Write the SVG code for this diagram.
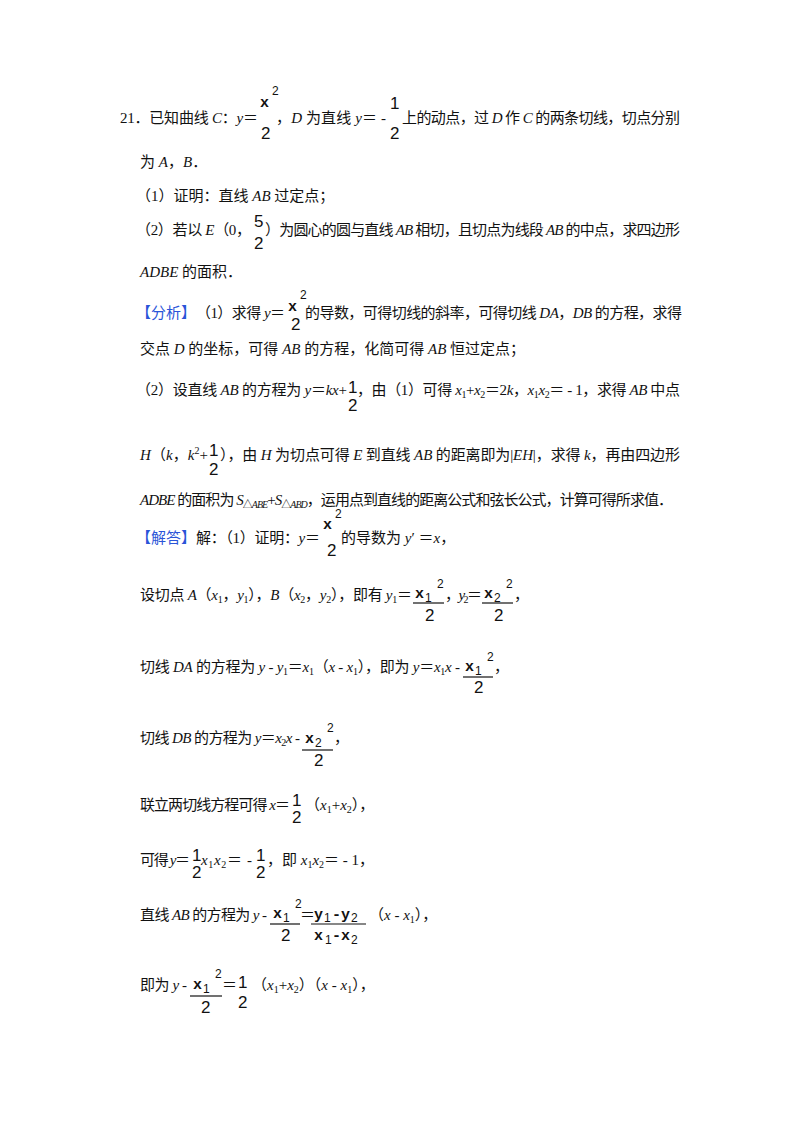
<svg xmlns="http://www.w3.org/2000/svg" width="800" height="1132" viewBox="0 0 800 1132">
<style>
text{font-family:"Liberation Serif","Noto Sans CJK SC",serif;font-size:15px;fill:#111}
.i{font-style:italic}
.f{font-family:"Liberation Sans",sans-serif;font-size:17px}
.m{font-family:"Liberation Mono",monospace;font-size:15px;font-weight:bold}
.s{font-family:"Liberation Sans",sans-serif;font-size:12px}
.b{fill:#2a55d8}
.sub{font-size:10px}
line{stroke:#111;stroke-width:1.2}
</style>
<rect width="800" height="1132" fill="#fff"/>
<g id="problem">
<text x="120" y="123" textLength="138">21．已知曲线 <tspan class="i">C</tspan>：<tspan class="i">y</tspan>＝</text>
<text class="m" x="260" y="107">x</text><text class="s" x="272" y="95">2</text><text class="f" x="261" y="139">2</text>
<text x="276" y="123" textLength="110">，<tspan class="i">D</tspan> 为直线 <tspan class="i">y</tspan>＝ -</text>
<text class="f" x="390" y="109">1</text><text class="f" x="390" y="139">2</text>
<text x="402" y="123" textLength="278">上的动点，过 <tspan class="i">D</tspan> 作 <tspan class="i">C</tspan> 的两条切线，切点分别</text>
<text x="140" y="167">为 <tspan class="i">A</tspan>，<tspan class="i">B</tspan>．</text>
<text x="136" y="201">（1）证明：直线 <tspan class="i">AB</tspan> 过定点；</text>
<text x="136" y="235" textLength="115">（2）若以 <tspan class="i">E</tspan>（0，</text>
<text class="f" x="254" y="227">5</text><text class="f" x="254" y="249">2</text>
<text x="265" y="235" textLength="415">）为圆心的圆与直线 <tspan class="i">AB</tspan> 相切，且切点为线段 <tspan class="i">AB</tspan> 的中点，求四边形</text>
<text x="140" y="277"><tspan class="i">ADBE</tspan> 的面积．</text>
</g>
<g id="analysis">
<text class="b" x="136" y="318">【分析】</text>
<text x="196" y="318" textLength="89">（1）求得 <tspan class="i">y</tspan>＝</text>
<text class="m" x="288" y="311">x</text><text class="s" x="300" y="299">2</text><text class="f" x="291" y="330">2</text>
<text x="305" y="318" textLength="377">的导数，可得切线的斜率，可得切线 <tspan class="i">DA</tspan>，<tspan class="i">DB</tspan> 的方程，求得</text>
<text x="140" y="354">交点 <tspan class="i">D</tspan> 的坐标，可得 <tspan class="i">AB</tspan> 的方程，化简可得 <tspan class="i">AB</tspan> 恒过定点；</text>
<text x="136" y="395" textLength="211">（2）设直线 <tspan class="i">AB</tspan> 的方程为 <tspan class="i">y</tspan>＝<tspan class="i">kx</tspan>+</text>
<text class="f" x="348" y="393">1</text><text class="f" x="348" y="411">2</text>
<text x="357" y="395" textLength="323">，由（1）可得 <tspan class="i">x</tspan><tspan class="sub" dy="3">1</tspan><tspan dy="-3">+</tspan><tspan class="i">x</tspan><tspan class="sub" dy="3">2</tspan><tspan dy="-3">＝2</tspan><tspan class="i">k</tspan>，<tspan class="i">x</tspan><tspan class="sub" dy="3">1</tspan><tspan class="i" dy="-3">x</tspan><tspan class="sub" dy="3">2</tspan><tspan dy="-3">＝ - 1，求得 </tspan><tspan class="i">AB</tspan> 中点</text>
<text x="140" y="460" textLength="68"><tspan class="i">H</tspan>（<tspan class="i">k</tspan>，<tspan class="i">k</tspan><tspan class="sub" dy="-6">2</tspan><tspan dy="6">+</tspan></text>
<text class="f" x="209" y="456">1</text><text class="f" x="209" y="475">2</text>
<text x="220" y="460" textLength="460">），由 <tspan class="i">H</tspan> 为切点可得 <tspan class="i">E</tspan> 到直线 <tspan class="i">AB</tspan> 的距离即为|<tspan class="i">EH</tspan>|，求得 <tspan class="i">k</tspan>，再由四边形</text>
<text x="140" y="505" textLength="533"><tspan class="i">ADBE</tspan> 的面积为 <tspan class="i">S</tspan><tspan class="sub" dy="3">△</tspan><tspan class="sub i">ABE</tspan><tspan dy="-3">+</tspan><tspan class="i">S</tspan><tspan class="sub" dy="3">△</tspan><tspan class="sub i">ABD</tspan><tspan dy="-3">，运用点到直线的距离公式和弦长公式，计算可得所求值．</tspan></text>
</g>
<g id="solution">
<text class="b" x="136" y="543">【解答】</text>
<text x="196" y="543" textLength="124">解：（1）证明：<tspan class="i">y</tspan>＝</text>
<text class="m" x="323" y="529">x</text><text class="s" x="335" y="518">2</text><text class="f" x="327" y="556">2</text>
<text x="341" y="543">的导数为 <tspan class="i">y</tspan>′ ＝<tspan class="i">x</tspan>，</text>

<text x="140" y="600" textLength="272">设切点 <tspan class="i">A</tspan>（<tspan class="i">x</tspan><tspan class="sub" dy="3">1</tspan><tspan dy="-3">，</tspan><tspan class="i">y</tspan><tspan class="sub" dy="3">1</tspan><tspan dy="-3">），</tspan><tspan class="i">B</tspan>（<tspan class="i">x</tspan><tspan class="sub" dy="3">2</tspan><tspan dy="-3">，</tspan><tspan class="i">y</tspan><tspan class="sub" dy="3">2</tspan><tspan dy="-3">），即有 </tspan><tspan class="i">y</tspan><tspan class="sub" dy="3">1</tspan><tspan dy="-3">＝</tspan></text>
<text class="m" x="415" y="598">x</text><text class="s" x="425" y="602">1</text><text class="s" x="437" y="588">2</text>
<line x1="413" y1="603" x2="444" y2="603"/><text class="f" x="425" y="621">2</text>
<text x="445" y="600" textLength="37">，<tspan class="i">y</tspan><tspan class="sub" dy="3">2</tspan><tspan dy="-3">＝</tspan></text>
<text class="m" x="484" y="598">x</text><text class="s" x="494" y="602">2</text><text class="s" x="506" y="588">2</text>
<line x1="482" y1="603" x2="513" y2="603"/><text class="f" x="494" y="621">2</text>
<text x="514" y="600">，</text>

<text x="140" y="672" textLength="320">切线 <tspan class="i">DA</tspan> 的方程为 <tspan class="i">y</tspan> - <tspan class="i">y</tspan><tspan class="sub" dy="3">1</tspan><tspan dy="-3">＝</tspan><tspan class="i">x</tspan><tspan class="sub" dy="3">1</tspan><tspan dy="-3">（</tspan><tspan class="i">x</tspan> - <tspan class="i">x</tspan><tspan class="sub" dy="3">1</tspan><tspan dy="-3">），即为 </tspan><tspan class="i">y</tspan>＝<tspan class="i">x</tspan><tspan class="sub" dy="3">1</tspan><tspan class="i" dy="-3">x</tspan> -</text>
<text class="m" x="465" y="671">x</text><text class="s" x="475" y="675">1</text><text class="s" x="487" y="661">2</text>
<line x1="463" y1="677" x2="493" y2="677"/><text class="f" x="474" y="693">2</text>
<text x="494" y="672">，</text>

<text x="140" y="743" textLength="160">切线 <tspan class="i">DB</tspan> 的方程为 <tspan class="i">y</tspan>＝<tspan class="i">x</tspan><tspan class="sub" dy="3">2</tspan><tspan class="i" dy="-3">x</tspan> -</text>
<text class="m" x="305" y="743">x</text><text class="s" x="315" y="747">2</text><text class="s" x="327" y="732">2</text>
<line x1="302" y1="750" x2="333" y2="750"/><text class="f" x="314" y="766">2</text>
<text x="334" y="743">，</text>

<text x="140" y="810" textLength="150">联立两切线方程可得 <tspan class="i">x</tspan>＝</text>
<text class="f" x="292" y="806">1</text><text class="f" x="292" y="823">2</text>
<text x="305" y="810">（<tspan class="i">x</tspan><tspan class="sub" dy="3">1</tspan><tspan dy="-3">+</tspan><tspan class="i">x</tspan><tspan class="sub" dy="3">2</tspan><tspan dy="-3">），</tspan></text>

<text x="140" y="865" textLength="50">可得 <tspan class="i">y</tspan>＝</text>
<text class="f" x="192" y="861">1</text><text class="f" x="192" y="878">2</text>
<text x="201" y="865" textLength="51"><tspan class="i">x</tspan><tspan class="sub" dy="3">1</tspan><tspan class="i" dy="-3">x</tspan><tspan class="sub" dy="3">2</tspan><tspan dy="-3">＝ -</tspan></text>
<text class="f" x="256" y="861">1</text><text class="f" x="256" y="878">2</text>
<text x="267" y="865">，即 <tspan class="i">x</tspan><tspan class="sub" dy="3">1</tspan><tspan class="i" dy="-3">x</tspan><tspan class="sub" dy="3">2</tspan><tspan dy="-3">＝ - 1，</tspan></text>

<text x="140" y="920" textLength="127">直线 <tspan class="i">AB</tspan> 的方程为 <tspan class="i">y</tspan> -</text>
<text class="m" x="273" y="918">x</text><text class="s" x="283" y="922">1</text><text class="s" x="295" y="908">2</text>
<line x1="270" y1="924" x2="300" y2="924"/><text class="f" x="281" y="941">2</text>
<text x="300" y="920">＝</text>
<text class="m" x="314" y="919">y</text><text class="s" x="324" y="922">1</text><text class="m" x="332" y="919">-y</text><text class="s" x="351" y="922">2</text>
<line x1="311" y1="924" x2="366" y2="924"/>
<text class="m" x="314" y="940">x</text><text class="s" x="325" y="944">1</text><text class="m" x="332" y="940">-x</text><text class="s" x="351" y="944">2</text>
<text x="369" y="920">（<tspan class="i">x</tspan> - <tspan class="i">x</tspan><tspan class="sub" dy="3">1</tspan><tspan dy="-3">），</tspan></text>

<text x="140" y="990" textLength="47">即为 <tspan class="i">y</tspan> -</text>
<text class="m" x="193" y="989">x</text><text class="s" x="203" y="993">1</text><text class="s" x="215" y="978">2</text>
<line x1="190" y1="996" x2="222" y2="996"/><text class="f" x="201" y="1013">2</text>
<text x="222" y="990">＝</text>
<text class="f" x="238" y="988">1</text><text class="f" x="238" y="1008">2</text>
<text x="252" y="990">（<tspan class="i">x</tspan><tspan class="sub" dy="3">1</tspan><tspan dy="-3">+</tspan><tspan class="i">x</tspan><tspan class="sub" dy="3">2</tspan><tspan dy="-3">）（</tspan><tspan class="i">x</tspan> - <tspan class="i">x</tspan><tspan class="sub" dy="3">1</tspan><tspan dy="-3">），</tspan></text>
</g>
</svg>
